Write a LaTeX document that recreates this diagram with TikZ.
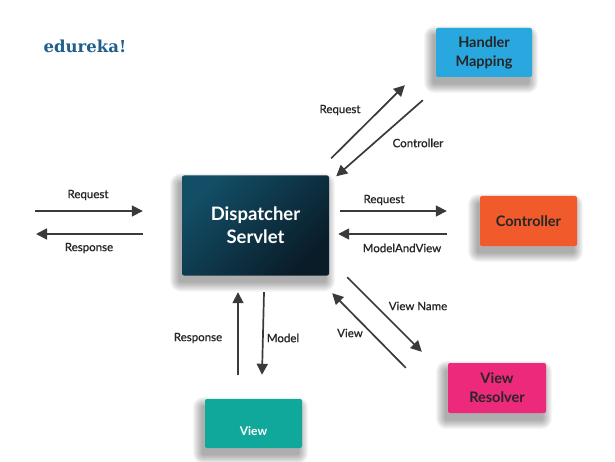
\documentclass[tikz,border=0pt]{standalone}
\usepackage{fontspec}
\setmainfont{Lato}
\newfontfamily\lblfont{Lato}[FakeBold=0.8]
\newfontfamily\logofont{DejaVu Serif}
\usetikzlibrary{arrows.meta,shadings}
\pgfdeclarelayer{background}
\pgfsetlayers{background,main}
\definecolor{arrgray}{HTML}{3A3A3A}
\definecolor{hmblue}{HTML}{29A8E0}
\definecolor{ctrlorange}{HTML}{F15A2B}
\definecolor{vrpink}{HTML}{EC297B}
\definecolor{viewteal}{HTML}{10A89A}
\definecolor{dsplight}{HTML}{124E66}
\definecolor{dspdark}{HTML}{0A1C28}
\definecolor{logoblue}{HTML}{1F5F8B}
\definecolor{txtdark}{HTML}{262626}
\tikzset{
  box/.style={rectangle, rounded corners=2pt, inner sep=0pt, align=center,
    font=\bfseries\fontsize{14.5}{19}\selectfont, text=txtdark},
  shadowlayer/.style={fill=black, fill opacity=0.035, draw=none},
  arr/.style={draw=arrgray, line width=1.7pt, -{Triangle[length=11pt,width=11pt]}},
  lbl/.style={font=\lblfont\fontsize{11.5}{13}\selectfont, text=txtdark, inner sep=0pt}
}
\begin{document}
\begin{tikzpicture}[x=1pt,y=-1pt]
\useasboundingbox (0,0) rectangle (615,462);
% logo
\node[inner sep=0pt, text=logoblue, font=\logofont\bfseries\fontsize{16.5}{16}\selectfont] (logo) at (85,46) {edureka!};
% boxes
\node[box, minimum width=147pt, minimum height=100pt, top color=dsplight, bottom color=dspdark, shading angle=45, text=white, font=\bfseries\fontsize{18.5}{23}\selectfont] (disp) at (255.5,225.5) {Dispatcher\\Servlet};
\node[box, fill=hmblue, minimum width=96pt, minimum height=49pt] (hm) at (484,52.5) {Handler\\Mapping};
\node[box, fill=ctrlorange, minimum width=97pt, minimum height=50pt] (ctrl) at (528.5,221) {Controller};
\node[box, fill=vrpink, minimum width=98pt, minimum height=50pt] (vr) at (497,388) {View\\Resolver};
\node[box, fill=viewteal, minimum width=97pt, minimum height=49pt] (view) at (253.5,423.5) {};
\node[text=white, font=\bfseries\fontsize{12}{14}\selectfont, inner sep=0pt] (viewtxt) at (253.5,431) {View};
% background and soft shadows
\begin{pgfonlayer}{background}
\fill[white] (0,0) rectangle (615,462);
\foreach \n in {disp,hm,ctrl,vr,view}{
  \foreach \r in {0,1,...,9}{
    \fill[shadowlayer, rounded corners=2pt+\r pt]
      ([shift={(-3pt-\r pt,-7pt-\r pt)}]\n.south west) rectangle ([shift={(-3pt+\r pt,-7pt+\r pt)}]\n.north east);
  }
}
\end{pgfonlayer}
% free ends
\coordinate (lin) at (35,211);
\coordinate (lout) at (36,234);
% left arrows
\draw[arr] (lin) -- ([shift={(-39pt,14.5pt)}]disp.west);
\draw[arr] ([shift={(-39pt,-8.5pt)}]disp.west) -- (lout);
% right arrows
\draw[arr] ([shift={(11pt,14.5pt)}]disp.east) -- ([shift={(-33pt,10pt)}]ctrl.west);
\draw[arr] ([shift={(-33pt,-13pt)}]ctrl.west) -- ([shift={(9pt,-8.5pt)}]disp.east);
% handler mapping arrows
\draw[arr] ([shift={(2pt,17pt)}]disp.north east) -- ([shift={(-31pt,-8pt)}]hm.south west);
\draw[arr] ([shift={(-13pt,-23pt)}]hm.south west) -- ([shift={(7pt,-1pt)}]disp.north east);
% view resolver arrows
\draw[arr] ([shift={(18pt,-1.5pt)}]disp.south east) -- ([shift={(-26pt,11pt)}]vr.north west);
\draw[arr] ([shift={(-42pt,-5pt)}]vr.north west) -- ([shift={(3pt,-17.5pt)}]disp.south east);
% view arrows
\draw[arr] ([shift={(-15.5pt,24pt)}]view.north) -- ([shift={(-17.5pt,-16.5pt)}]disp.south);
\draw[arr] ([shift={(8.5pt,-16.5pt)}]disp.south) -- ([shift={(8.5pt,24pt)}]view.north);
% labels
\node[lbl] (l1) at (88,195) {Request};
\node[lbl] (l2) at (89,248) {Response};
\node[lbl] (l3) at (384,200) {Request};
\node[lbl] (l4) at (402,248) {ModelAndView};
\node[lbl] (l5) at (340,110) {Request};
\node[lbl] (l6) at (418,143) {Controller};
\node[lbl] (l7) at (418,306) {View Name};
\node[lbl] (l8) at (350,333) {View};
\node[lbl] (l9) at (198,338) {Response};
\node[lbl] (l10) at (283,338) {Model};
\end{tikzpicture}
\end{document}
